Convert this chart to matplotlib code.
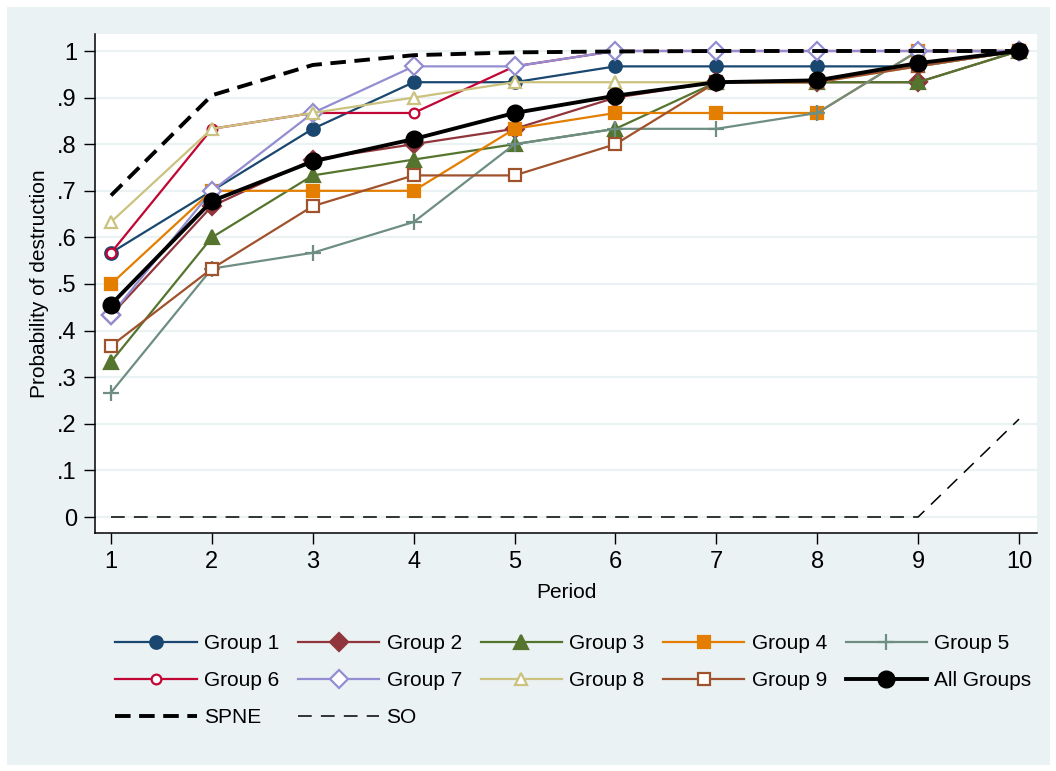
import matplotlib.pyplot as plt
from matplotlib.patches import Rectangle

periods = [1, 2, 3, 4, 5, 6, 7, 8, 9, 10]

group1 = [.567, .700, .833, .933, .933, .967, .967, .967, .967, 1.0]
group2 = [.433, .667, .767, .800, .833, .900, .933, .933, .933, 1.0]
group3 = [.333, .600, .733, .767, .800, .833, .933, .933, .933, 1.0]
group4 = [.500, .700, .700, .700, .833, .867, .867, .867, 1.0, 1.0]
group5 = [.267, .533, .567, .633, .800, .833, .833, .867, 1.0, 1.0]
group6 = [.567, .833, .867, .867, .967, 1.0, 1.0, 1.0, 1.0, 1.0]
group7 = [.433, .700, .867, .967, .967, 1.0, 1.0, 1.0, 1.0, 1.0]
group8 = [.633, .833, .867, .900, .933, .933, .933, .933, .967, 1.0]
group9 = [.367, .533, .667, .733, .733, .800, .933, .933, .967, 1.0]
all_groups = [.456, .678, .763, .811, .867, .904, .933, .937, .974, 1.0]
spne = [.690, .905, .970, .991, .997, .999, 1.0, 1.0, 1.0, 1.0]
so = [0, 0, 0, 0, 0, 0, 0, 0, 0, .21]

yticks = [0, .1, .2, .3, .4, .5, .6, .7, .8, .9, 1]
ytick_labels = ["0", ".1", ".2", ".3", ".4", ".5", ".6", ".7", ".8", ".9", "1"]

plt.rcParams["font.family"] = ["Liberation Sans", "DejaVu Sans"]

BG = "#EAF2F3"

fig = plt.figure(figsize=(10.56, 7.71), dpi=100, facecolor="white")
fig.patches.append(Rectangle((7 / 1056, 6 / 771), 1043 / 1056, 758 / 771,
                             transform=fig.transFigure, facecolor=BG,
                             edgecolor="none", zorder=-10))
ax = fig.add_axes([95 / 1056, 1 - 533 / 771, 942 / 1056, 499 / 771])
ax.set_facecolor("white")

for y in yticks:
    ax.axhline(y, color=BG, lw=1.6, zorder=0)

groups = [
    ("Group 1", group1, "#1A476F", "o", True, 9),
    ("Group 2", group2, "#90353B", "D", True, 9),
    ("Group 3", group3, "#55752F", "^", True, 10),
    ("Group 4", group4, "#E37E00", "s", True, 9),
    ("Group 5", group5, "#6E8E84", "+", True, 11),
    ("Group 6", group6, "#C10534", "o", False, 7),
    ("Group 7", group7, "#938DD2", "D", False, 9),
    ("Group 8", group8, "#CAC27E", "^", False, 9),
    ("Group 9", group9, "#A0522D", "s", False, 8),
]

handles = {}
for name, vals, col, mk, filled, ms in groups:
    (h,) = ax.plot(periods, vals, color=col, lw=1.6, marker=mk, ms=ms,
                   mfc=col if filled else "white", mec=col, mew=1.6,
                   label=name, zorder=3)
    handles[name] = h

(h,) = ax.plot(periods, spne, color="black", lw=2.8, ls=(0, (4, 2.2)),
               label="SPNE", zorder=4)
handles["SPNE"] = h
(h,) = ax.plot(periods, so, color="black", lw=1.1, ls=(0, (9, 6)),
               label="SO", zorder=4)
handles["SO"] = h
(h,) = ax.plot(periods, all_groups, color="black", lw=2.8, marker="o", ms=12,
               label="All Groups", zorder=5)
handles["All Groups"] = h

ax.set_xlim(1 - 16 / 100.9, 10 + 18 / 100.9)
ax.set_ylim(-16 / 466, 1 + 17 / 466)
ax.set_xticks(periods)
ax.set_yticks(yticks)
ax.set_yticklabels(ytick_labels)
ax.tick_params(labelsize=17, length=8, width=1, pad=5)
for s in ["top", "right"]:
    ax.spines[s].set_visible(False)
ax.spines["left"].set_linewidth(1.1)
ax.spines["bottom"].set_linewidth(1.1)
ax.set_xlabel("Period", fontsize=15, labelpad=7)
ax.set_ylabel("Probability of destruction", fontsize=15, labelpad=6)

# matplotlib fills legend columns first, so order the entries to read row by row
order = ["Group 1", "Group 6", "SPNE", "Group 2", "Group 7", "SO",
         "Group 3", "Group 8", "Group 4", "Group 9", "Group 5", "All Groups"]
fig.legend([handles[k] for k in order], order, ncol=5,
           loc="upper left", bbox_to_anchor=(105 / 1056, 1 - 624 / 771),
           frameon=False, fontsize=15, handlelength=3.9, handletextpad=0.35,
           columnspacing=0.9, labelspacing=0.85, borderpad=0)

fig.savefig("out.png", dpi=100, facecolor="white")
